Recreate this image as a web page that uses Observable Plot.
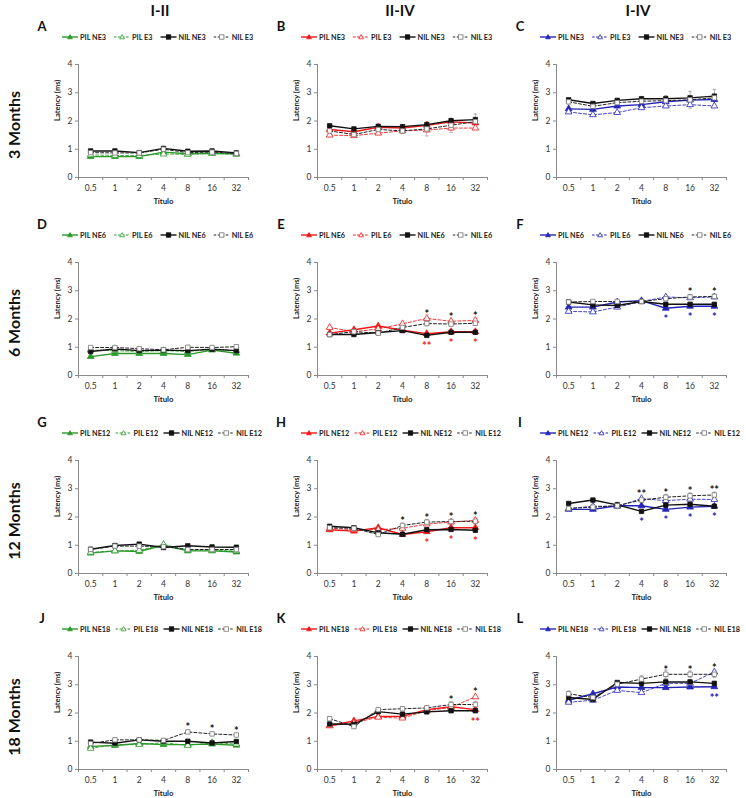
<!DOCTYPE html>
<html><head><meta charset="utf-8">
<script src="https://cdn.jsdelivr.net/npm/d3@7"></script>
<script src="https://cdn.jsdelivr.net/npm/@observablehq/plot@0.6"></script>
<style>
body{margin:0;background:#fff;font-family:Lato,"Liberation Sans",Arial,sans-serif;}
#root{position:relative;width:746px;height:798px;overflow:hidden;background:#fff;}
.abs{position:absolute;}
.colh{font-weight:bold;font-size:15px;transform:translate(-50%,-50%);white-space:nowrap;color:#111;}
.rowh{font-weight:bold;font-size:16px;transform:translate(-50%,-50%) rotate(-90deg);white-space:nowrap;color:#111;}
.letter{font-weight:bold;font-size:13px;transform:translate(-50%,-50%);color:#111;}
svg text{font-family:Lato,"Liberation Sans",Arial,sans-serif;}
</style></head><body><div id="root"></div>
<script>
const titres = ["0.5","1","2","4","8","16","32"];
const ageLabels = ["3","6","12","18"];
const rowLabels = ["3 Months","6 Months","12 Months","18 Months"];
const colLabels = ["I-II","II-IV","I-IV"];
const panelLetters = ["A","B","C","D","E","F","G","H","I","J","K","L"];
const waveColors = ["#2b9a2b","#f01818","#2424b8"];
const yTicks = [0,1,2,3,4];
const yLabel = "Latency (ms)";
const xLabel = "Título";

// A: I-II, 3 months
const A_pilNE = [0.74,0.74,0.74,0.90,0.84,0.86,0.84];
const A_pilE  = [0.80,0.78,0.78,0.83,0.82,0.85,0.82];
const A_nilNE = [0.94,0.94,0.88,1.03,0.93,0.94,0.87];
const A_nilE  = [0.88,0.87,0.87,1.00,0.88,0.90,0.85];
const A_err   = [0.05,0.04,0.04,0.06,0.05,0.05,0.04];
const A_stars = [];
// B: II-IV, 3 months
const B_pilNE = [1.70,1.62,1.78,1.75,1.85,1.97,1.93];
const B_pilE  = [1.50,1.48,1.57,1.65,1.68,1.75,1.75];
const B_nilNE = [1.83,1.72,1.81,1.80,1.87,2.01,2.05];
const B_nilE  = [1.65,1.52,1.70,1.65,1.72,1.85,1.98];
const B_err   = [0.08,0.07,0.07,0.10,0.25,0.25,0.27];
const B_stars = [];
// C: I-IV, 3 months
const C_pilNE = [2.43,2.41,2.53,2.58,2.68,2.74,2.76];
const C_pilE  = [2.32,2.22,2.30,2.47,2.53,2.58,2.53];
const C_nilNE = [2.75,2.62,2.73,2.79,2.79,2.82,2.88];
const C_nilE  = [2.68,2.52,2.65,2.70,2.72,2.75,2.82];
const C_err   = [0.08,0.06,0.08,0.08,0.18,0.30,0.30];
const C_stars = [];
// D: I-II, 6 months
const D_pilNE = [0.67,0.78,0.78,0.78,0.74,0.90,0.79];
const D_pilE  = [0.90,0.88,0.85,0.88,0.85,0.92,0.88];
const D_nilNE = [0.85,0.94,0.88,0.90,0.88,0.93,0.88];
const D_nilE  = [0.99,0.99,0.95,0.91,1.00,0.99,1.02];
const D_err   = [0.04,0.04,0.04,0.04,0.05,0.04,0.05];
const D_stars = [];
// E: II-IV, 6 months
const E_pilNE = [1.50,1.62,1.75,1.60,1.48,1.55,1.55];
const E_pilE  = [1.70,1.55,1.65,1.83,2.02,1.92,1.95];
const E_nilNE = [1.45,1.45,1.52,1.59,1.42,1.53,1.53];
const E_nilE  = [1.45,1.55,1.50,1.70,1.84,1.82,1.85];
const E_err   = [0.06,0.05,0.06,0.08,0.08,0.06,0.07];
const E_stars = [["nil",4,"*"],["nil",5,"*"],["nil",6,"*"],["pil",4,"**"],["pil",5,"*"],["pil",6,"*"]];
// F: I-IV, 6 months
const F_pilNE = [2.42,2.42,2.60,2.65,2.38,2.45,2.45];
const F_pilE  = [2.27,2.25,2.42,2.62,2.78,2.75,2.78];
const F_nilNE = [2.60,2.50,2.48,2.62,2.52,2.52,2.52];
const F_nilE  = [2.60,2.62,2.62,2.62,2.72,2.78,2.80];
const F_err   = [0.05,0.05,0.05,0.05,0.08,0.08,0.08];
const F_stars = [["nil",5,"*"],["nil",6,"*"],["pil",4,"*"],["pil",5,"*"],["pil",6,"*"]];
// G: I-II, 12 months
const G_pilNE = [0.72,0.80,0.78,1.00,0.80,0.80,0.76];
const G_pilE  = [0.75,0.80,0.82,1.03,0.83,0.82,0.80];
const G_nilNE = [0.86,0.99,1.04,0.92,0.98,0.94,0.93];
const G_nilE  = [0.85,0.97,0.97,0.95,0.85,0.85,0.85];
const G_err   = [0.04,0.05,0.06,0.05,0.05,0.05,0.05];
const G_stars = [];
// H: II-IV, 12 months
const H_pilNE = [1.55,1.50,1.62,1.38,1.48,1.62,1.62];
const H_pilE  = [1.60,1.55,1.55,1.60,1.75,1.82,1.88];
const H_nilNE = [1.67,1.62,1.44,1.39,1.55,1.56,1.53];
const H_nilE  = [1.62,1.60,1.38,1.70,1.82,1.84,1.85];
const H_err   = [0.06,0.05,0.06,0.08,0.08,0.06,0.06];
const H_stars = [["nil",3,"*"],["nil",4,"*"],["nil",5,"*"],["nil",6,"*"],["pil",4,"*"],["pil",5,"*"],["pil",6,"*"]];
// I: I-IV, 12 months
const I_pilNE = [2.27,2.27,2.40,2.40,2.27,2.35,2.38];
const I_pilE  = [2.30,2.38,2.38,2.65,2.58,2.63,2.62];
const I_nilNE = [2.48,2.60,2.43,2.20,2.42,2.45,2.38];
const I_nilE  = [2.30,2.35,2.40,2.60,2.70,2.75,2.78];
const I_err   = [0.06,0.06,0.06,0.08,0.10,0.10,0.10];
const I_stars = [["nil",3,"**"],["nil",4,"*"],["nil",5,"*"],["nil",6,"**"],["pil",3,"*"],["pil",4,"*"],["pil",5,"*"],["pil",6,"*"]];
// J: I-II, 18 months
const J_pilNE = [0.82,0.85,0.92,0.88,0.88,0.90,0.86];
const J_pilE  = [0.75,0.88,0.88,0.95,0.85,0.95,0.90];
const J_nilNE = [0.97,0.93,1.05,1.00,1.00,0.94,0.99];
const J_nilE  = [0.92,1.05,1.05,1.03,1.33,1.26,1.22];
const J_err   = [0.06,0.06,0.06,0.06,0.06,0.06,0.06];
const J_stars = [["nil",4,"*"],["nil",5,"*"],["nil",6,"*"]];
// K: II-IV, 18 months
const K_pilNE = [1.55,1.72,1.88,1.88,2.12,2.22,2.12];
const K_pilE  = [1.55,1.65,1.85,1.82,2.08,2.20,2.57];
const K_nilNE = [1.61,1.60,2.05,1.96,2.04,2.08,2.08];
const K_nilE  = [1.80,1.52,2.12,2.15,2.18,2.30,2.30];
const K_err   = [0.06,0.06,0.06,0.06,0.08,0.10,0.10];
const K_stars = [["nil",5,"*"],["nil",6,"*"],["pil",6,"**"]];
// L: I-IV, 18 months
const L_pilNE = [2.45,2.68,2.92,2.90,2.90,2.92,2.93];
const L_pilE  = [2.38,2.45,2.80,2.72,3.05,3.05,3.45];
const L_nilNE = [2.55,2.48,3.08,3.05,3.10,3.10,3.05];
const L_nilE  = [2.68,2.55,3.02,3.20,3.37,3.37,3.37];
const L_err   = [0.10,0.12,0.08,0.12,0.15,0.12,0.12];
const L_stars = [["nil",4,"*"],["nil",5,"*"],["nil",6,"*"],["pil",6,"**"]];

const panels = [
  {pilNE:A_pilNE,pilE:A_pilE,nilNE:A_nilNE,nilE:A_nilE,err:A_err,stars:A_stars},
  {pilNE:B_pilNE,pilE:B_pilE,nilNE:B_nilNE,nilE:B_nilE,err:B_err,stars:B_stars},
  {pilNE:C_pilNE,pilE:C_pilE,nilNE:C_nilNE,nilE:C_nilE,err:C_err,stars:C_stars},
  {pilNE:D_pilNE,pilE:D_pilE,nilNE:D_nilNE,nilE:D_nilE,err:D_err,stars:D_stars},
  {pilNE:E_pilNE,pilE:E_pilE,nilNE:E_nilNE,nilE:E_nilE,err:E_err,stars:E_stars},
  {pilNE:F_pilNE,pilE:F_pilE,nilNE:F_nilNE,nilE:F_nilE,err:F_err,stars:F_stars},
  {pilNE:G_pilNE,pilE:G_pilE,nilNE:G_nilNE,nilE:G_nilE,err:G_err,stars:G_stars},
  {pilNE:H_pilNE,pilE:H_pilE,nilNE:H_nilNE,nilE:H_nilE,err:H_err,stars:H_stars},
  {pilNE:I_pilNE,pilE:I_pilE,nilNE:I_nilNE,nilE:I_nilE,err:I_err,stars:I_stars},
  {pilNE:J_pilNE,pilE:J_pilE,nilNE:J_nilNE,nilE:J_nilE,err:J_err,stars:J_stars},
  {pilNE:K_pilNE,pilE:K_pilE,nilNE:K_nilNE,nilE:K_nilE,err:K_err,stars:K_stars},
  {pilNE:L_pilNE,pilE:L_pilE,nilNE:L_nilNE,nilE:L_nilE,err:L_err,stars:L_stars}
];

// ---- layout ----
const root = document.getElementById("root");
const colAxisX = [78, 317, 556];
const colHeadX = [160, 400, 638];
const rowTop = [64, 262, 460, 656];
const plotW = 170, plotH = 113;
const mL = 40, mR = 6, mT = 16, mB = 34;
const axisGray = "#8a8a8a";
const tickText = "#333";

function addDiv(cls, text, left, top) {
  const d = document.createElement("div");
  d.className = "abs " + cls;
  d.textContent = text;
  d.style.left = left + "px";
  d.style.top = top + "px";
  root.appendChild(d);
  return d;
}

colLabels.forEach((t, c) => addDiv("colh", t, colHeadX[c], 10));
rowLabels.forEach((t, r) => addDiv("rowh", t, 13, rowTop[r] + 61));

function legend(r, c) {
  const color = waveColors[c];
  const age = ageLabels[r];
  const items = [
    {label: `PIL NE${age}`, stroke: color, dash: null, sym: "tri", fill: color, ms: color},
    {label: `PIL E${age}`, stroke: color, dash: "2.5,1.5", sym: "tri", fill: "#fff", ms: color},
    {label: `NIL NE${age}`, stroke: "#111", dash: null, sym: "sq", fill: "#111", ms: "#111"},
    {label: `NIL E${age}`, stroke: "#222", dash: "2.5,1.5", sym: "sq", fill: "#fff", ms: "#777"}
  ];
  const svg = d3.create("svg").attr("width", 205).attr("height", 12)
    .style("position", "absolute").style("left", (colAxisX[c] - 16) + "px")
    .style("top", (rowTop[r] - 33) + "px").style("overflow", "visible");
  root.appendChild(svg.node());
  // first pass: measure
  const texts = items.map(it => svg.append("text").attr("font-size", 7.3).attr("font-weight", "bold").text(it.label));
  const widths = texts.map(t => t.node().getComputedTextLength());
  texts.forEach(t => t.remove());
  const lineLen = 16, gapLT = 2;
  const total = d3.sum(widths) + items.length * (lineLen + gapLT);
  const avail = 200;
  const gap = Math.max(3, Math.min(8, (avail - total) / (items.length - 1)));
  let x = 0;
  const cy = 6;
  items.forEach((it, k) => {
    svg.append("line").attr("x1", x).attr("x2", x + lineLen).attr("y1", cy).attr("y2", cy)
      .attr("stroke", it.stroke).attr("stroke-width", it.dash ? 1 : 1.4)
      .attr("stroke-dasharray", it.dash);
    const mx = x + lineLen / 2;
    if (it.sym === "tri") {
      svg.append("path").attr("d", `M${mx},${cy-2.4}L${mx+2.4},${cy+1.8}L${mx-2.4},${cy+1.8}Z`)
        .attr("fill", it.fill).attr("stroke", it.ms).attr("stroke-width", 0.8);
    } else {
      svg.append("rect").attr("x", mx - 2.2).attr("y", cy - 2.2).attr("width", 4.4).attr("height", 4.4)
        .attr("fill", it.fill).attr("stroke", it.ms).attr("stroke-width", 0.8);
    }
    svg.append("text").attr("x", x + lineLen + gapLT).attr("y", cy).attr("dy", "0.35em")
      .attr("font-size", 7.3).attr("font-weight", "bold").attr("fill", "#222").text(it.label);
    x += lineLen + gapLT + widths[k] + gap;
  });
}

function panel(r, c) {
  const p = panels[r * 3 + c];
  const color = waveColors[c];
  const series = [
    {vals: p.pilNE, err: null, stroke: color, dash: null, sym: "triangle", fill: color, ms: color, sw: 1.4, op: 1},
    {vals: p.pilE, err: null, stroke: color, dash: "3,2", sym: "triangle", fill: "#fff", ms: color, sw: 1, op: 0.85},
    {vals: p.nilNE, err: null, stroke: "#111", dash: null, sym: "square", fill: "#111", ms: "#111", sw: 1.4, op: 1},
    {vals: p.nilE, err: p.err, stroke: "#222", dash: "3,2", sym: "square", fill: "#fff", ms: "#777", sw: 1, op: 1}
  ];
  const idx = d3.range(titres.length);
  const bounds = d3.range(titres.length + 1).map(i => i - 0.5);
  const marks = [
    Plot.ruleY([0], {stroke: axisGray, strokeWidth: 1}),
    Plot.ruleX([bounds[0]], {stroke: axisGray, strokeWidth: 1}),
    Plot.axisY({ticks: yTicks, tickSize: 3, tickPadding: 3, tickFormat: d => String(d), stroke: axisGray, fill: tickText, fontSize: 8.5, label: null}),
    Plot.axisX({ticks: bounds, tickSize: 3, tickFormat: () => "", stroke: axisGray, label: null}),
    Plot.axisX({ticks: idx, tickSize: 0, tickPadding: 7, tickFormat: i => titres[i], fill: tickText, fontSize: 8.5, label: null}),
    Plot.text([yLabel], {frameAnchor: "left", dx: -21, rotate: -90, fontSize: 7.5, fontWeight: "bold", fill: "#222"}),
    Plot.text([xLabel], {frameAnchor: "bottom", dy: 26, fontSize: 7.8, fontWeight: "bold", fill: "#222"})
  ];
  series.forEach(s => {
    if (!s.err) return;
    const rows = idx.map(i => ({i, lo: s.vals[i] - s.err[i], hi: s.vals[i] + s.err[i]}));
    marks.push(Plot.ruleX(rows, {x: "i", y1: "lo", y2: "hi", stroke: "#9a9a9a", strokeWidth: 0.8}));
    marks.push(Plot.link(rows, {x1: d => d.i - 0.07, x2: d => d.i + 0.07, y1: "hi", y2: "hi", stroke: "#9a9a9a", strokeWidth: 0.8}));
    marks.push(Plot.link(rows, {x1: d => d.i - 0.07, x2: d => d.i + 0.07, y1: "lo", y2: "lo", stroke: "#9a9a9a", strokeWidth: 0.8}));
  });
  series.forEach(s => {
    const rows = idx.map(i => ({i, v: s.vals[i]}));
    marks.push(Plot.line(rows, {x: "i", y: "v", stroke: s.stroke, strokeWidth: s.sw, strokeDasharray: s.dash, strokeOpacity: s.op}));
    marks.push(Plot.dot(rows, {x: "i", y: "v", symbol: s.sym, r: 2.5, fill: s.fill, stroke: s.ms, strokeWidth: 0.8}));
  });
  const starRows = p.stars.map(([g, i, t]) => {
    const vals = series.map(s => s.vals[i]);
    return {i, t, y: g === "nil" ? d3.max(vals) + 0.25 : d3.min(vals) - 0.3, c: g === "nil" ? "#111" : color};
  });
  marks.push(Plot.text(starRows, {x: "i", y: "y", text: "t", fill: "c", fontSize: 11, fontWeight: "bold", dy: 3, fontFamily: "'Liberation Sans', Arial, sans-serif"}));

  const chart = Plot.plot({
    width: mL + plotW + mR, height: mT + plotH + mB,
    marginLeft: mL, marginRight: mR, marginTop: mT, marginBottom: mB,
    x: {type: "linear", domain: [bounds[0], bounds[bounds.length - 1]], label: null, axis: null},
    y: {domain: [0, 4], label: null, axis: null},
    style: {background: "transparent", overflow: "visible", fontFamily: "Lato, 'Liberation Sans', Arial, sans-serif"},
    marks
  });
  chart.style.position = "absolute";
  chart.style.left = (colAxisX[c] - mL) + "px";
  chart.style.top = (rowTop[r] - mT) + "px";
  root.appendChild(chart);

  addDiv("letter", panelLetters[r * 3 + c], colAxisX[c] - 36, rowTop[r] - 38);
  legend(r, c);
}

for (let r = 0; r < 4; r++) for (let c = 0; c < 3; c++) panel(r, c);
</script></body></html>
